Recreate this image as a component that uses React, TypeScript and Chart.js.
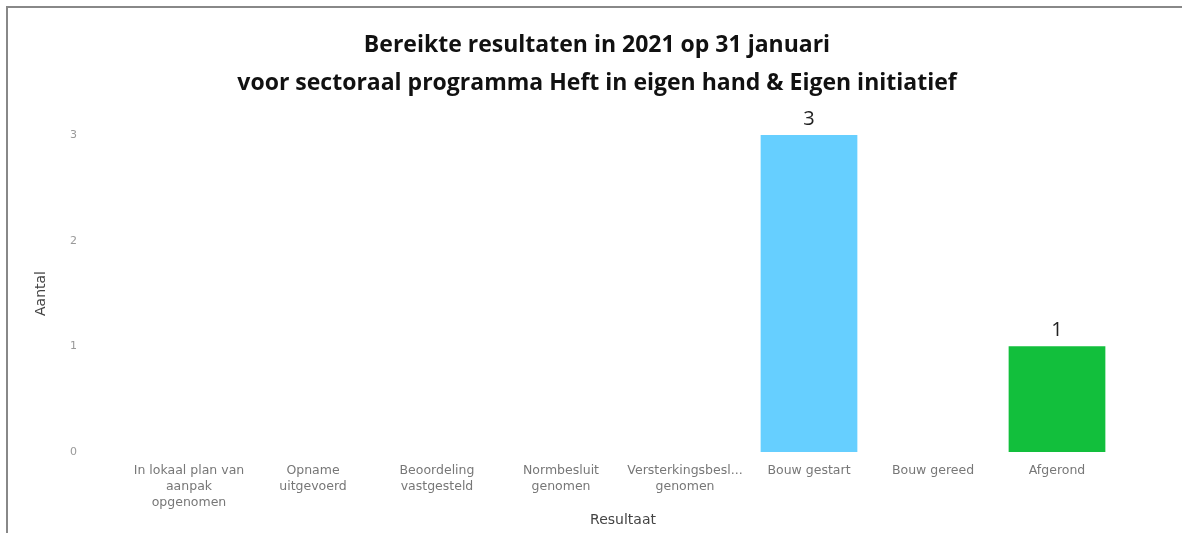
import React, { useEffect, useRef } from "react";
import { Chart, registerables } from "chart.js";

Chart.register(...registerables);

const titleLines = [
  "Bereikte resultaten in 2021 op 31 januari",
  "voor sectoraal programma Heft in eigen hand & Eigen initiatief",
];

const categories: string[][] = [
  ["In lokaal plan van", "aanpak", "opgenomen"],
  ["Opname", "uitgevoerd"],
  ["Beoordeling", "vastgesteld"],
  ["Normbesluit", "genomen"],
  ["Versterkingsbesl...", "genomen"],
  ["Bouw gestart"],
  ["Bouw gereed"],
  ["Afgerond"],
];

const values: (number | null)[] = [null, null, null, null, null, 3, null, 1];

const barColors = [
  "#66CFFF",
  "#66CFFF",
  "#66CFFF",
  "#66CFFF",
  "#66CFFF",
  "#66CFFF",
  "#66CFFF",
  "#12BF3C",
];

const yTicks = [0, 1, 2, 3];

const valueLabelPlugin = {
  id: "valueLabels",
  afterDatasetsDraw(chart: any) {
    const ctx = chart.ctx;
    const meta = chart.getDatasetMeta(0);
    ctx.save();
    ctx.fillStyle = "#222";
    ctx.font = "20px 'Open Sans', sans-serif";
    ctx.textAlign = "center";
    ctx.textBaseline = "alphabetic";
    meta.data.forEach((bar: any, i: number) => {
      const v = values[i];
      if (v === null || v === undefined) return;
      ctx.fillText(String(v), bar.x, bar.y - 10);
    });
    ctx.restore();
  },
};

export default function App() {
  const ref = useRef<HTMLCanvasElement | null>(null);

  useEffect(() => {
    if (!ref.current) return;
    const chart = new Chart(ref.current, {
      type: "bar",
      data: {
        labels: categories,
        datasets: [
          {
            data: values,
            backgroundColor: barColors,
            barPercentage: 0.78,
            categoryPercentage: 1,
          },
        ],
      },
      options: {
        responsive: false,
        animation: false,
        maintainAspectRatio: false,
        layout: { padding: { left: 33, right: 21, top: 0, bottom: 4 } },
        plugins: {
          legend: { display: false },
          tooltip: { enabled: false },
          title: {
            display: true,
            text: titleLines,
            color: "#111",
            font: { family: "'Open Sans', sans-serif", size: 23, weight: "bold", lineHeight: 38 / 23 },
            padding: { top: 26, bottom: 33 },
          },
        },
        scales: {
          x: {
            offset: true,
            grid: { display: false, drawTicks: false },
            border: { display: false },
            afterFit(axis: any) {
              axis.height = 77;
            },
            ticks: {
              color: "#777",
              font: { family: "'DejaVu Sans', sans-serif", size: 12.5, lineHeight: 16 / 12.5 },
              maxRotation: 0,
              autoSkip: false,
              padding: 11,
            },
            title: {
              display: true,
              text: "Resultaat",
              color: "#444",
              font: { family: "'DejaVu Sans', sans-serif", size: 14 },
              padding: { top: 0, bottom: 0 },
            },
          },
          y: {
            min: 0,
            max: 3,
            grid: { display: false, drawTicks: false },
            border: { display: false },
            afterBuildTicks(axis: any) {
              axis.ticks = yTicks.map((v) => ({ value: v }));
            },
            afterFit(axis: any) {
              axis.width = 94;
            },
            ticks: {
              color: "#999",
              font: { family: "'DejaVu Sans', sans-serif", size: 11 },
              padding: 50,
            },
            title: {
              display: true,
              text: "Aantal",
              color: "#444",
              font: { family: "'DejaVu Sans', sans-serif", size: 14 },
              padding: { top: 0, bottom: 0 },
            },
          },
          y2: {
            position: "right",
            display: true,
            grid: { display: false, drawTicks: false },
            border: { display: false },
            ticks: { display: false },
            afterFit(axis: any) {
              axis.width = 42;
            },
          },
        },
      },
      plugins: [valueLabelPlugin],
    });
    return () => chart.destroy();
  }, []);

  return (
    <div style={{ position: "absolute", left: 0, top: 0, width: 1182, height: 533, background: "#fff" }}>
      <div
        style={{
          position: "absolute",
          left: 6,
          top: 6,
          right: 0,
          bottom: 0,
          borderTop: "2px solid #888",
          borderLeft: "2px solid #888",
        }}
      />
      <canvas ref={ref} width={1182} height={533} style={{ position: "absolute", left: 0, top: 0 }} />
    </div>
  );
}
